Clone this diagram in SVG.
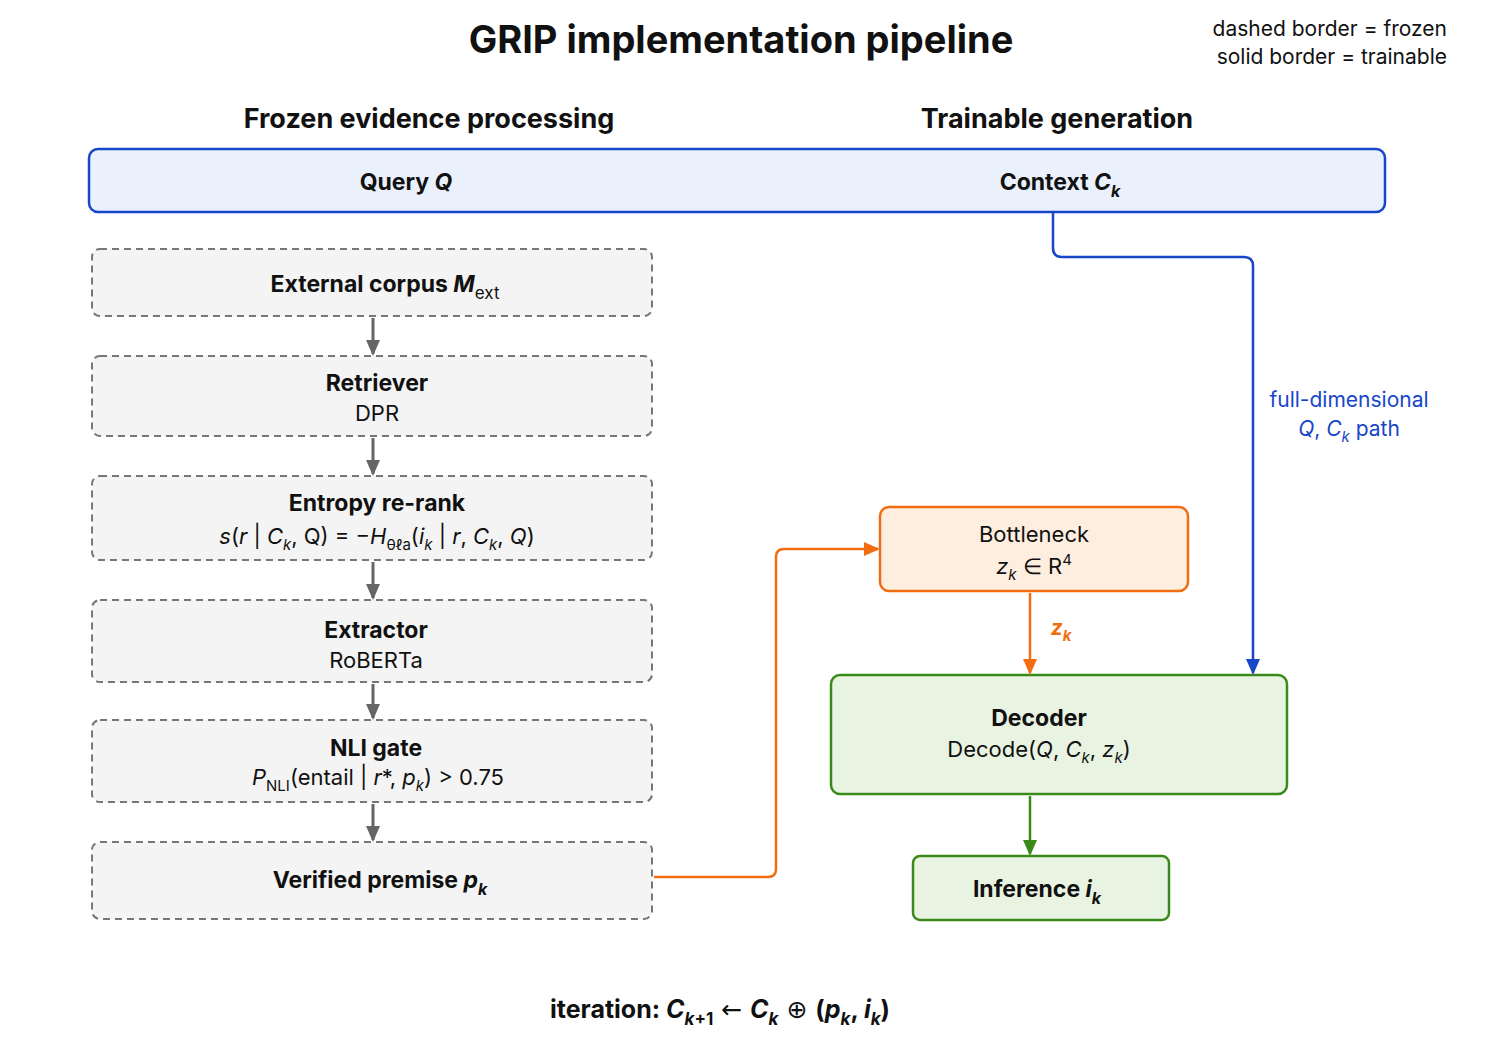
<svg xmlns="http://www.w3.org/2000/svg" width="1491" height="1055" viewBox="0 0 1491 1055">
<style>
text{font-family:"Inter","Liberation Sans",sans-serif;fill:#111}
.b{font-weight:700}
.t{font-size:23px}
.s{font-size:22px}
.fz{fill:#f4f4f4;stroke:#777;stroke-width:2;stroke-dasharray:7 5}
.ar{fill:none;stroke:#666;stroke-width:3}
</style>
<defs>
<marker id="mg" markerWidth="16" markerHeight="16" refX="14" refY="8" orient="auto" markerUnits="userSpaceOnUse"><path d="M0,1L16,8L0,15z" fill="#666"/></marker>
<marker id="mo" markerWidth="16" markerHeight="16" refX="14" refY="8" orient="auto" markerUnits="userSpaceOnUse"><path d="M0,1L16,8L0,15z" fill="#f26d12"/></marker>
<marker id="mb" markerWidth="16" markerHeight="16" refX="14" refY="8" orient="auto" markerUnits="userSpaceOnUse"><path d="M0,1L16,8L0,15z" fill="#1746c9"/></marker>
<marker id="mgr" markerWidth="16" markerHeight="16" refX="14" refY="8" orient="auto" markerUnits="userSpaceOnUse"><path d="M0,1L16,8L0,15z" fill="#3a8a1a"/></marker>
</defs>
<rect width="1491" height="1055" fill="#fff"/>
<text x="741" y="53" text-anchor="middle" class="b" font-size="38">GRIP implementation pipeline</text>
<text x="1447" y="36" text-anchor="end" font-size="21">dashed border = frozen</text>
<text x="1447" y="64" text-anchor="end" font-size="21">solid border = trainable</text>
<text x="429" y="128" text-anchor="middle" class="b" font-size="27">Frozen evidence processing</text>
<text x="1057" y="128" text-anchor="middle" class="b" font-size="27">Trainable generation</text>
<g id="top"><rect x="89" y="149" width="1296" height="63" rx="9" fill="#eaf1fd" stroke="#1746c9" stroke-width="2.5"/>
<text x="406" y="190" text-anchor="middle" class="b t">Query <tspan font-style="italic">Q</tspan></text>
<text x="1060" y="190" text-anchor="middle" class="b t">Context <tspan font-style="italic">C</tspan><tspan font-style="italic" font-size="16" dy="7">k</tspan></text></g>
<g id="corpus"><rect class="fz" x="92" y="249" width="560" height="67" rx="8"/><text x="385" y="292" text-anchor="middle" class="b t">External corpus <tspan font-style="italic">M</tspan><tspan font-size="17" dy="7" font-weight="400">ext</tspan></text></g>
<g id="retriever"><rect class="fz" x="92" y="356" width="560" height="80" rx="8"/><text x="377" y="391" text-anchor="middle" class="b t">Retriever</text><text x="377" y="421" text-anchor="middle" class="s">DPR</text></g>
<g id="entropy"><rect class="fz" x="92" y="476" width="560" height="84" rx="8"/><text x="377" y="511" text-anchor="middle" class="b t">Entropy re-rank</text><text x="377" y="544" text-anchor="middle" class="s"><tspan font-style="italic">s</tspan>(<tspan font-style="italic">r</tspan> | <tspan font-style="italic">C</tspan><tspan font-size="15" dy="6" font-style="italic">k</tspan><tspan dy="-6">, Q) = −</tspan><tspan font-style="italic">H</tspan><tspan font-size="15" dy="6">θℓa</tspan><tspan dy="-6">(</tspan><tspan font-style="italic">i</tspan><tspan font-size="15" dy="6" font-style="italic">k</tspan><tspan dy="-6"> | </tspan><tspan font-style="italic">r</tspan>, <tspan font-style="italic">C</tspan><tspan font-size="15" dy="6" font-style="italic">k</tspan><tspan dy="-6">, </tspan><tspan font-style="italic">Q</tspan>)</text></g>
<g id="extractor"><rect class="fz" x="92" y="600" width="560" height="82" rx="8"/><text x="376" y="638" text-anchor="middle" class="b t">Extractor</text><text x="376" y="668" text-anchor="middle" class="s">RoBERTa</text></g>
<g id="nli"><rect class="fz" x="92" y="720" width="560" height="82" rx="8"/><text x="376" y="756" text-anchor="middle" class="b t">NLI gate</text><text x="378" y="785" text-anchor="middle" class="s"><tspan font-style="italic">P</tspan><tspan font-size="15" dy="6">NLI</tspan><tspan dy="-6">(entail | </tspan><tspan font-style="italic">r</tspan>*, <tspan font-style="italic">p</tspan><tspan font-size="15" dy="6" font-style="italic">k</tspan><tspan dy="-6">) &gt; 0.75</tspan></text></g>
<g id="premise"><rect class="fz" x="92" y="842" width="560" height="77" rx="8"/><text x="380" y="888" text-anchor="middle" class="b t">Verified premise <tspan font-style="italic">p</tspan><tspan font-style="italic" font-size="16" dy="7">k</tspan></text></g>
<g id="bottleneck"><rect x="880" y="507" width="308" height="84" rx="9" fill="#fdeee0" stroke="#f26d12" stroke-width="2.5"/><text x="1034" y="542" text-anchor="middle" class="s">Bottleneck</text><text x="1034" y="574" text-anchor="middle" class="s"><tspan font-style="italic">z</tspan><tspan font-style="italic" font-size="15" dy="6">k</tspan><tspan dy="-6"> ∈ R</tspan><tspan font-size="15" dy="-9">4</tspan></text></g>
<g id="decoder"><rect x="831" y="675" width="456" height="119" rx="9" fill="#e9f3e2" stroke="#3a8a1a" stroke-width="2.5"/><text x="1039" y="726" text-anchor="middle" class="b t">Decoder</text><text x="1039" y="757" text-anchor="middle" class="s">Decode(<tspan font-style="italic">Q</tspan>, <tspan font-style="italic">C</tspan><tspan font-style="italic" font-size="15" dy="6">k</tspan><tspan dy="-6">, </tspan><tspan font-style="italic">z</tspan><tspan font-style="italic" font-size="15" dy="6">k</tspan><tspan dy="-6">)</tspan></text></g>
<g id="inference"><rect x="913" y="856" width="256" height="64" rx="7" fill="#e9f3e2" stroke="#3a8a1a" stroke-width="2.5"/><text x="1037" y="897" text-anchor="middle" class="b t">Inference <tspan font-style="italic">i</tspan><tspan font-style="italic" font-size="16" dy="7">k</tspan></text></g>
<g id="connectors">
<path class="ar" d="M373,318V354" marker-end="url(#mg)"/>
<path class="ar" d="M373,438V474" marker-end="url(#mg)"/>
<path class="ar" d="M373,562V598" marker-end="url(#mg)"/>
<path class="ar" d="M373,684V718" marker-end="url(#mg)"/>
<path class="ar" d="M373,804V840" marker-end="url(#mg)"/>
<path d="M654,877H768Q776,877 776,869V557Q776,549 784,549H878" fill="none" stroke="#f26d12" stroke-width="2.5" marker-end="url(#mo)"/>
<path d="M1030,593V673" fill="none" stroke="#f26d12" stroke-width="2.5" marker-end="url(#mo)"/>
<path d="M1053,213V248Q1053,257 1062,257H1244Q1253,257 1253,266V673" fill="none" stroke="#1746c9" stroke-width="2.5" marker-end="url(#mb)"/>
<path d="M1030,796V854" fill="none" stroke="#3a8a1a" stroke-width="2.5" marker-end="url(#mgr)"/>
</g>
<text x="1061" y="635" text-anchor="middle" font-size="21" style="fill:#f26d12" class="b" font-style="italic">z<tspan font-size="15" dy="6">k</tspan></text>
<text x="1349" y="407" text-anchor="middle" font-size="21" style="fill:#1746c9">full-dimensional</text>
<text x="1349" y="436" text-anchor="middle" font-size="21" style="fill:#1746c9"><tspan font-style="italic">Q</tspan>, <tspan font-style="italic">C</tspan><tspan font-style="italic" font-size="15" dy="6">k</tspan><tspan dy="-6"> path</tspan></text>
<text x="720" y="1018" text-anchor="middle" class="b" font-size="25">iteration: <tspan font-style="italic">C</tspan><tspan font-style="italic" font-size="17" dy="7">k</tspan><tspan font-size="17">+1</tspan><tspan dy="-7" font-family="DejaVu Sans" font-weight="400"> ← </tspan><tspan font-style="italic">C</tspan><tspan font-style="italic" font-size="17" dy="7">k</tspan><tspan dy="-7" font-family="DejaVu Sans" font-weight="400"> ⊕ </tspan><tspan>(</tspan><tspan font-style="italic">p</tspan><tspan font-style="italic" font-size="17" dy="7">k</tspan><tspan dy="-7">, </tspan><tspan font-style="italic">i</tspan><tspan font-style="italic" font-size="17" dy="7">k</tspan><tspan dy="-7">)</tspan></text>
</svg>
